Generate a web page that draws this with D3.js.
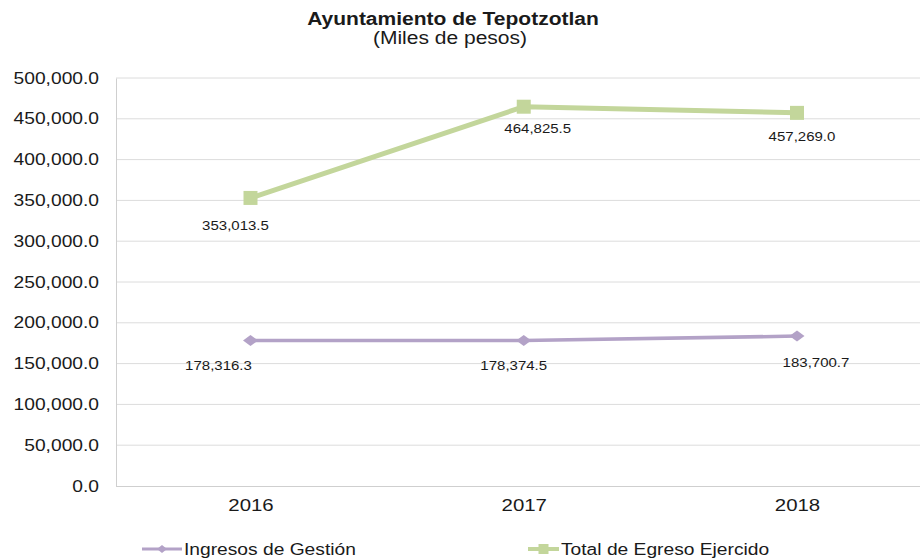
<!DOCTYPE html>
<html>
<head>
<meta charset="utf-8">
<script src="https://cdn.jsdelivr.net/npm/d3@7"></script>
<style>
  body { margin: 0; background: #fff; }
  svg text { font-family: "Liberation Sans", Arial, sans-serif; fill: #1a1a1a; }
</style>
</head>
<body>
<svg id="chart" width="920" height="560"></svg>
<script>
const years = ["2016", "2017", "2018"];
const ingresos = [178316.3, 178374.5, 183700.7];
const egresos = [353013.5, 464825.5, 457269.0];
const yTicks = [0, 50000, 100000, 150000, 200000, 250000, 300000, 350000, 400000, 450000, 500000];
const seriesNames = ["Ingresos de Gestión", "Total de Egreso Ejercido"];
const title = "Ayuntamiento de Tepotzotlan";
const subtitle = "(Miles de pesos)";

const purple = "#b3a2c7", green = "#c3d69b";
const STRETCH = 1.2;

const svg = d3.select("#chart");
const plotLeft = 116, plotRight = 935, plotTop = 78, plotBottom = 486;

const x = d3.scalePoint().domain(years).range([250.5, 797]);
const y = d3.scaleLinear().domain([0, 500000]).range([plotBottom, plotTop]);
const fmt = d3.format(",.1f");

function stretch(sel) {
  sel.each(function () {
    const len = this.getComputedTextLength();
    d3.select(this).attr("textLength", len * STRETCH).attr("lengthAdjust", "spacingAndGlyphs");
  });
}

// gridlines
svg.append("g").selectAll("line").data(yTicks.slice(1)).join("line")
  .attr("x1", plotLeft).attr("x2", plotRight)
  .attr("y1", d => y(d)).attr("y2", d => y(d))
  .attr("stroke", "#dcdcdc").attr("stroke-width", 1);

// y axis
const yAxis = svg.append("g").attr("transform", `translate(${plotLeft},0)`)
  .call(d3.axisLeft(y).tickValues(yTicks).tickFormat(fmt).tickSize(0).tickPadding(17));
yAxis.select(".domain").attr("stroke", "#cfcfcf");
yAxis.selectAll("text").style("font-size", "16px").attr("fill", "#1a1a1a")
  .attr("font-family", "Liberation Sans, Arial, sans-serif").call(stretch);

// x axis
const xAxis = svg.append("g").attr("transform", `translate(0,${plotBottom})`)
  .call(d3.axisBottom(x).tickSize(0).tickPadding(13));
xAxis.select(".domain").attr("d", `M${plotLeft},0.5H${plotRight}`).attr("stroke", "#cfcfcf");
xAxis.selectAll("text").style("font-size", "17px").attr("fill", "#1a1a1a")
  .attr("font-family", "Liberation Sans, Arial, sans-serif").call(stretch);

const line = d3.line().x((d, i) => x(years[i])).y(d => y(d));

// purple series
svg.append("path").datum(ingresos).attr("d", line)
  .attr("fill", "none").attr("stroke", purple).attr("stroke-width", 3.5);
const diamond = (cx, cy, w, h) => `M${cx - w / 2},${cy}L${cx},${cy - h / 2}L${cx + w / 2},${cy}L${cx},${cy + h / 2}Z`;
svg.append("g").selectAll("path").data(ingresos).join("path")
  .attr("d", (d, i) => diamond(x(years[i]), y(d), 15, 11))
  .attr("fill", purple);

// green series
svg.append("path").datum(egresos).attr("d", line)
  .attr("fill", "none").attr("stroke", green).attr("stroke-width", 5);
svg.append("g").selectAll("rect").data(egresos).join("rect")
  .attr("x", (d, i) => x(years[i]) - 7).attr("y", d => y(d) - 7)
  .attr("width", 14).attr("height", 14).attr("fill", green);

// data labels
const purpleDx = [-32, -10, 19], purpleDy = [26, 26, 27];
const greenDx = [-15, 14, 5], greenDy = [28, 22, 24];
svg.append("g").selectAll("text").data(ingresos).join("text")
  .attr("x", (d, i) => x(years[i]) + purpleDx[i])
  .attr("y", (d, i) => y(d) + purpleDy[i])
  .attr("text-anchor", "middle").attr("dominant-baseline", "central")
  .style("font-size", "12.5px").text(d => fmt(d)).call(stretch);
svg.append("g").selectAll("text").data(egresos).join("text")
  .attr("x", (d, i) => x(years[i]) + greenDx[i])
  .attr("y", (d, i) => y(d) + greenDy[i])
  .attr("text-anchor", "middle").attr("dominant-baseline", "central")
  .style("font-size", "12.5px").text(d => fmt(d)).call(stretch);

// title
svg.append("text").attr("x", 453).attr("y", 25).attr("text-anchor", "middle")
  .style("font-size", "17.5px").style("font-weight", "bold").text(title).call(stretch);
svg.append("text").attr("x", 450).attr("y", 44).attr("text-anchor", "middle")
  .style("font-size", "17.5px").text(subtitle).call(stretch);

// legend
const legendY = 549;
const legendItems = [
  { name: seriesNames[0], color: purple, x0: 142, shape: "diamond", w: 3 },
  { name: seriesNames[1], color: green, x0: 528, shape: "square", w: 4 }
];
const lg = svg.append("g");
legendItems.forEach(it => {
  const len = it.shape === "diamond" ? 40 : 31;
  lg.append("line").attr("x1", it.x0).attr("x2", it.x0 + len)
    .attr("y1", legendY).attr("y2", legendY)
    .attr("stroke", it.color).attr("stroke-width", it.w);
  const cx = it.x0 + len / 2;
  if (it.shape === "diamond") {
    lg.append("path").attr("d", diamond(cx, legendY, 10, 8)).attr("fill", it.color);
  } else {
    lg.append("rect").attr("x", cx - 5).attr("y", legendY - 5).attr("width", 10).attr("height", 10).attr("fill", it.color);
  }
  lg.append("text").attr("x", it.x0 + len + 2).attr("y", legendY)
    .attr("dominant-baseline", "central").style("font-size", "16px").text(it.name).call(stretch);
});
</script>
</body>
</html>
